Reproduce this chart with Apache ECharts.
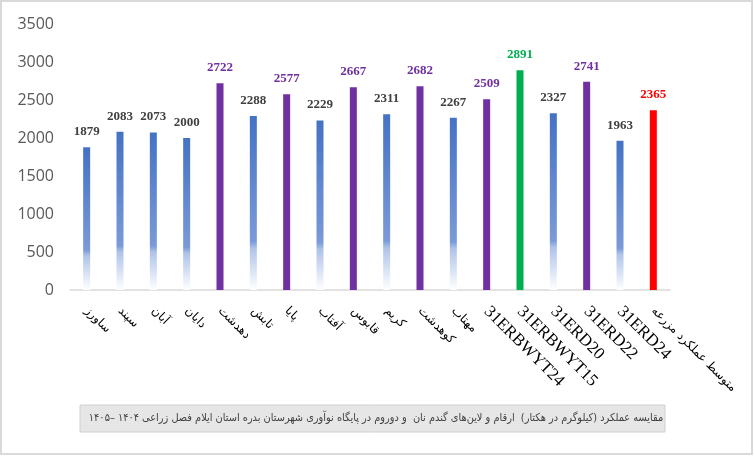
<!DOCTYPE html>
<html>
<head>
<meta charset="utf-8">
<script src="https://cdn.jsdelivr.net/npm/echarts@6/dist/echarts.min.js"></script>
<style>
  html, body { margin: 0; padding: 0; background: #fff; }
</style>
</head>
<body>

<div id="main" dir="rtl" style="width: 754px;height:456px;"></div>

<script type="text/javascript">
    // ارقام و لاین‌ها
    var categories = ['ساورز', 'سپند', 'آبان', 'دایان', 'دهدشت', 'تابش', 'پایا', 'آفتاب', 'قابوس',
        'کریم', 'کوهدشت', 'مهتاب', '31ERBWYT24', '31ERBWYT15', '31ERD20', '31ERD22', '31ERD24',
        'متوسط عملکرد مزرعه'];
    // عملکرد (کیلوگرم در هکتار)
    var yieldValues = [1879, 2083, 2073, 2000, 2722, 2288, 2577, 2229, 2667,
        2311, 2682, 2267, 2509, 2891, 2327, 2741, 1963, 2365];
    // گروه هر ستون
    var groups = ['blue', 'blue', 'blue', 'blue', 'purple', 'blue', 'purple', 'blue', 'purple',
        'blue', 'purple', 'blue', 'purple', 'green', 'blue', 'purple', 'blue', 'red'];
    var yTicks = [0, 500, 1000, 1500, 2000, 2500, 3000, 3500];

    var caption = 'مقایسه عملکرد (کیلوگرم در هکتار)  ارقام و لاین‌های گندم نان  و دوروم در پایگاه نوآوری شهرستان بدره استان ایلام فصل زراعی ۱۴۰۴ –۱۴۰۵';

    var blueFill = new echarts.graphic.LinearGradient(0, 0, 0, 1, [
        {offset: 0, color: '#4472C4'},
        {offset: 0.72, color: '#7A9AD8'},
        {offset: 0.76, color: '#AFC3E8'},
        {offset: 1, color: '#FFFFFF'}
    ]);
    var fills = {blue: blueFill, purple: '#7030A0', green: '#00B050', red: '#FF0000'};
    var labelColors = {blue: '#404040', purple: '#7030A0', green: '#00B050', red: '#FF0000'};

    var myChart = echarts.init(document.getElementById('main'));

    var option = {
        backgroundColor: '#fff',
        animation: false,
        grid: {
            left: 70,
            right: 84,
            top: 24,
            bottom: 166
        },
        xAxis: {
            type: 'category',
            data: categories,
            axisLine: {lineStyle: {color: '#D9D9D9', width: 1.5}},
            axisTick: {show: false},
            axisLabel: {
                interval: 0,
                rotate: -45,
                margin: 19,
                formatter: function (v) {
                    return /^31/.test(v) ? '{en|' + v + '}' : '{fa|' + v + '}';
                },
                rich: {
                    fa: {fontFamily: 'DejaVu Sans', fontSize: 12, color: '#000'},
                    en: {fontFamily: 'Liberation Serif', fontSize: 17, color: '#000'}
                }
            }
        },
        yAxis: {
            type: 'value',
            min: yTicks[0],
            max: yTicks[yTicks.length - 1],
            interval: 500,
            axisLine: {show: false},
            axisTick: {show: false},
            splitLine: {show: false},
            axisLabel: {
                margin: 16,
                color: '#595959',
                fontFamily: 'Open Sans',
                fontSize: 16,
                formatter: function (v) { return String(v); }
            }
        },
        series: [
            {
                type: 'bar',
                barWidth: 7,
                data: yieldValues.map(function (v, i) {
                    var g = groups[i];
                    return {
                        value: v,
                        itemStyle: {color: fills[g]},
                        label: {color: labelColors[g]}
                    };
                }),
                label: {
                    show: true,
                    position: 'top',
                    distance: 9,
                    fontFamily: 'Liberation Serif',
                    fontWeight: 'bold',
                    fontSize: 13
                }
            }
        ],
        graphic: [
            {
                type: 'rect',
                shape: {x: 1, y: 1, width: 751, height: 453},
                style: {fill: 'none', stroke: '#D9D9D9', lineWidth: 2},
                silent: true
            },
            {
                type: 'rect',
                shape: {x: 80, y: 405, width: 585, height: 27},
                style: {fill: '#E6E6E6', stroke: '#D0D0D0', lineWidth: 1},
                silent: true
            },
            {
                type: 'text',
                x: 376,
                y: 418,
                style: {
                    text: caption,
                    align: 'center',
                    verticalAlign: 'middle',
                    fontFamily: 'DejaVu Sans Condensed',
                    fontSize: 10.9,
                    fill: '#404040'
                },
                silent: true
            }
        ]
    };

    myChart.setOption(option);
</script>
</body>
</html>
